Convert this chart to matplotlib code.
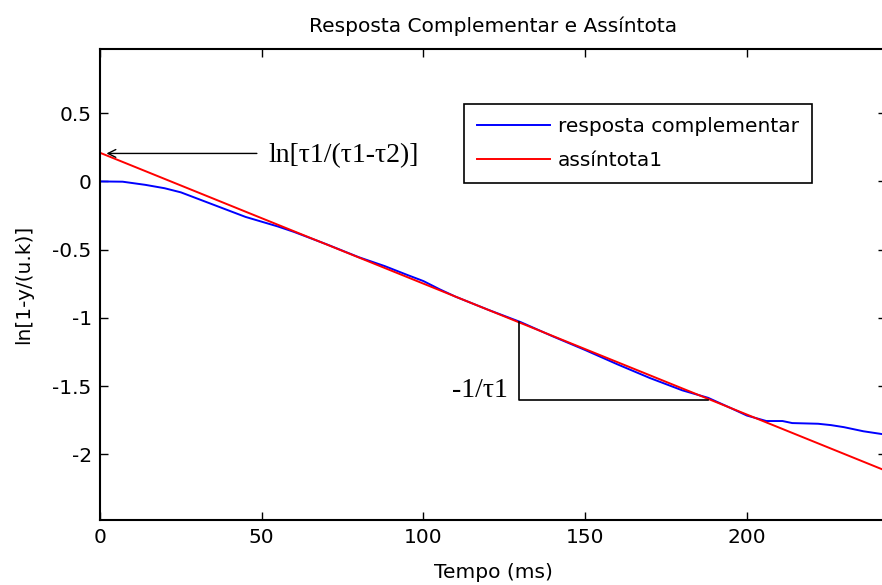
import numpy as np
import matplotlib
matplotlib.use("Agg")
import matplotlib.pyplot as plt

# tempo (ms) e resposta complementar ln[1 - y/(u.k)]
t_resp = [0, 7, 14, 20, 25, 30, 35, 40, 45, 50, 55, 60, 70, 80, 88, 95,
          100, 105, 110, 120, 130, 140, 150, 160, 170, 180, 188, 195, 200,
          206, 211, 214, 222, 226, 230, 236, 243]
y_resp = [0.0, -0.002, -0.025, -0.05, -0.08, -0.125, -0.17, -0.215, -0.26,
          -0.295, -0.33, -0.37, -0.46, -0.555, -0.62, -0.685, -0.73, -0.79,
          -0.845, -0.94, -1.03, -1.135, -1.235, -1.34, -1.44, -1.53, -1.585,
          -1.66, -1.715, -1.755, -1.755, -1.77, -1.775, -1.785, -1.80, -1.83,
          -1.855]

# assintota (reta): extremos
t_ass = [0, 243]
y_ass = [0.21, -2.12]

# triangulo da inclinacao -1/tau1
tri_t = [129.5, 129.5, 188]
tri_y = [-1.03, -1.60, -1.60]

x_ticks = [0, 50, 100, 150, 200]
y_ticks = [-2, -1.5, -1, -0.5, 0, 0.5]
y_ticklabels = ["-2", "-1.5", "-1", "-0.5", "0", "0.5"]

plt.rcParams["font.family"] = ["DejaVu Sans"]
serif = ["Liberation Serif", "DejaVu Serif"]

fig = plt.figure(figsize=(8.82, 5.85), dpi=100)
W, H = 882, 585
left, right, top, bottom = 100, 886, 49, 520
ax = fig.add_axes([left / W, (H - bottom) / H, (right - left) / W, (bottom - top) / H])

ax.plot(t_resp, y_resp, color="#0000ff", lw=1.4, label="resposta complementar")
ax.plot(t_ass, y_ass, color="#ff0000", lw=1.4, label="assíntota1")
ax.plot(tri_t, tri_y, color="black", lw=1.2)

ax.annotate("", xy=(2.0, 0.205), xytext=(48.5, 0.205),
            arrowprops=dict(arrowstyle="->", color="black", lw=1.0,
                            shrinkA=0, shrinkB=0, mutation_scale=14))
ax.text(52, 0.19, "ln[τ1/(τ1-τ2)]", family=serif, fontsize=20,
        ha="left", va="center")
ax.text(126, -1.53, "-1/τ1", family=serif, fontsize=20,
        ha="right", va="center")

ax.set_xlim(0, 243)
ax.set_ylim(-2.48, 0.97)
ax.set_xticks(x_ticks)
ax.set_yticks(y_ticks)
ax.set_yticklabels(y_ticklabels)
ax.tick_params(direction="in", length=6, width=1.0, labelsize=14.5,
               top=True, right=True, pad=6)
for s in ax.spines.values():
    s.set_linewidth(1.5)

ax.set_title("Resposta Complementar e Assíntota", fontsize=14.5, pad=12)
ax.set_xlabel("Tempo (ms)", fontsize=14.5, labelpad=11)
ax.set_ylabel("ln[1-y/(u.k)]", fontsize=14.5, labelpad=14)

leg = ax.legend(loc="upper left", bbox_to_anchor=(0.463, 0.883),
                borderaxespad=0, fontsize=14.5, handlelength=3.6,
                handletextpad=0.4, fancybox=False, framealpha=1,
                edgecolor="black", borderpad=0.65, labelspacing=0.75)
leg.get_frame().set_linewidth(1.2)

fig.savefig("out.png", dpi=100)
